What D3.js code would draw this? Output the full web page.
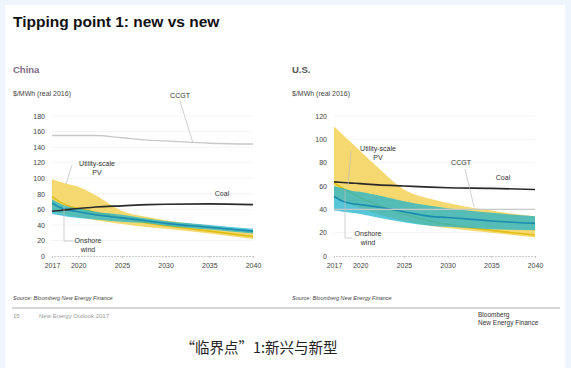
<!DOCTYPE html>
<html lang="en">
<head>
<meta charset="utf-8">
<script src="https://d3js.org/d3.v7.min.js"></script>
<style type="text/css">
body { margin: 0; background: #eef5fd; }
svg { display: block; font-family: "Liberation Sans", Arial, sans-serif; }
</style>
</head>
<body>
<script type="text/javascript">

// years
var years = [2017, 2018, 2019, 2020, 2022, 2025, 2028, 2030, 2035, 2040];
var xTicks = [2017, 2020, 2025, 2030, 2035, 2040];

// China, $/MWh
var cnCcgt      = [155, 155, 155, 155, 155, 152, 149, 148, 145, 144];
var cnCoal      = [57.5, 58.5, 60, 61, 63, 64.5, 66, 66.5, 67, 66];
var cnPvHigh    = [99, 95, 92, 89, 78, 58, 50, 46, 39, 32];
var cnPvMid     = [76, 69, 64, 61, 56, 49, 42, 39, 32, 25];
var cnPvLow     = [58, 55, 52, 50, 46, 41, 37, 35, 29, 22];
var cnWindHigh  = [73, 67, 63, 61, 57, 53, 48, 45, 40, 35];
var cnWindMid   = [68, 62, 59, 57, 53, 49, 45, 42, 37, 32];
var cnWindLow   = [54, 52, 50, 49, 47, 44, 42, 39, 34, 29];
var cnYTicks    = [0, 20, 40, 60, 80, 100, 120, 140, 160, 180];

// U.S., $/MWh
var usCcgt      = [40, 40, 40, 40, 40, 40, 40, 40, 40, 40];
var usCoal      = [63.5, 63, 62.5, 62, 61, 60, 59, 58.5, 58, 57];
var usPvHigh    = [111, 104, 97, 90, 76, 57, 49, 45.5, 39, 34];
var usPvMid     = [63, 58, 54, 50, 44, 36, 30, 27, 22, 18];
var usPvLow     = [50, 47, 44, 41, 36, 30, 26, 24, 20, 16];
var usWindHigh  = [60, 58, 56, 55, 52, 47, 43, 41, 37, 34];
var usWindMid   = [51, 47, 45, 44, 42, 38, 34, 33, 30, 28];
var usWindLow   = [39, 38, 37, 36, 33, 29, 26, 25, 23, 22];
var usYTicks    = [0, 20, 40, 60, 80, 100, 120];

var width = 571, height = 368;

var svg = d3.select("body").append("svg")
    .attr("width", width)
    .attr("height", height);

// white slide on the light blue page
svg.append("rect").attr("x", 5).attr("y", 5)
    .attr("width", 560).attr("height", 363).attr("fill", "#fff");

svg.append("text").attr("x", 13).attr("y", 27)
    .attr("font-size", 15.5).attr("font-weight", "bold").attr("fill", "#111")
    .text("Tipping point 1: new vs new");

function panel(o) {
    var x = d3.scaleLinear().domain([2017, 2040]).range(o.xr);
    var y = d3.scaleLinear().domain([0, o.ymax]).range([256, 116]);
    var g = svg.append("g");

    g.append("text").attr("x", o.titleX).attr("y", 73)
        .attr("font-size", 9.5).attr("font-weight", "bold").attr("fill", o.titleColor)
        .text(o.title);
    g.append("text").attr("x", o.titleX).attr("y", 96)
        .attr("font-size", 7).attr("fill", "#444")
        .text("$/MWh (real 2016)");

    // faint grid
    g.selectAll(".grid").data(o.yTicks.slice(1)).enter().append("line")
        .attr("x1", o.xr[0]).attr("x2", o.xr[1])
        .attr("y1", function(d) { return y(d); }).attr("y2", function(d) { return y(d); })
        .attr("stroke", "#f1f1f1").attr("stroke-width", 0.8);

    var yAxis = g.append("g").attr("transform", "translate(" + (o.xr[0] - 7) + ",0)")
        .call(d3.axisLeft(y).tickValues(o.yTicks).tickSize(0).tickPadding(0));
    yAxis.select(".domain").remove();
    yAxis.selectAll("text").attr("font-size", 7).attr("fill", "#444")
        .attr("font-family", "Liberation Sans, Arial, sans-serif");

    var xAxis = g.append("g").attr("transform", "translate(0," + y(0) + ")")
        .call(d3.axisBottom(x).tickValues(xTicks).tickFormat(d3.format("d")).tickSize(2).tickPadding(5));
    xAxis.select(".domain").attr("stroke", "#ccc").attr("stroke-dasharray", "2,1");
    xAxis.selectAll("line").attr("stroke", "#ccc");
    xAxis.selectAll("text").attr("font-size", 7).attr("fill", "#444")
        .attr("font-family", "Liberation Sans, Arial, sans-serif");

    var idx = d3.range(years.length);
    function band(lo, hi) {
        return d3.area().curve(d3.curveMonotoneX)
            .x(function(i) { return x(years[i]); })
            .y0(function(i) { return y(lo[i]); })
            .y1(function(i) { return y(hi[i]); })(idx);
    }
    function line(v) {
        return d3.line().curve(d3.curveMonotoneX)
            .x(function(i) { return x(years[i]); })
            .y(function(i) { return y(v[i]); })(idx);
    }

    g.append("path").attr("d", band(o.pvLow, o.pvHigh)).attr("fill", "#f4d560").attr("opacity", 0.9);
    g.append("path").attr("d", line(o.pvMid)).attr("fill", "none").attr("stroke", "#e2bd12").attr("stroke-width", 1.6);
    g.append("path").attr("d", band(o.windLow, o.windHigh)).attr("fill", "#1fb3cc").attr("opacity", 0.75);
    g.append("path").attr("d", line(o.windMid)).attr("fill", "none").attr("stroke", "#1a8cb0").attr("stroke-width", 1.6);
    g.append("path").attr("d", line(o.ccgt)).attr("fill", "none").attr("stroke", "#c8c8c8").attr("stroke-width", 1.4);
    g.append("path").attr("d", line(o.coal)).attr("fill", "none").attr("stroke", "#2a2a2a").attr("stroke-width", 1.6);

    // labels with leader lines
    o.labels.forEach(function(l) {
        if (l.lead) {
            g.append("polyline").attr("points", l.lead.map(function(p) { return p.join(","); }).join(" "))
                .attr("fill", "none").attr("stroke", "#bbb").attr("stroke-width", 0.7);
        }
        var t = g.append("text").attr("font-size", 7).attr("fill", "#333").attr("text-anchor", "middle");
        l.lines.forEach(function(s, k) {
            t.append("tspan").attr("x", l.x).attr("y", l.y + k * 9).text(s);
        });
    });

    g.append("text").attr("x", o.titleX).attr("y", 300)
        .attr("font-size", 5.5).attr("font-style", "italic").attr("fill", "#444")
        .text("Source: Bloomberg New Energy Finance");
}

panel({
    title: "China", titleX: 13, titleColor: "#7d6a86", xr: [52, 253], ymax: 180, yTicks: cnYTicks,
    ccgt: cnCcgt, coal: cnCoal, pvHigh: cnPvHigh, pvMid: cnPvMid, pvLow: cnPvLow,
    windHigh: cnWindHigh, windMid: cnWindMid, windLow: cnWindLow,
    labels: [
        { x: 180, y: 98, lines: ["CCGT"], lead: [[180, 101], [193, 143]] },
        { x: 222, y: 196, lines: ["Coal"] },
        { x: 97, y: 166, lines: ["Utility-scale", "PV"], lead: [[72, 165], [66, 184]] },
        { x: 88, y: 243, lines: ["Onshore", "wind"], lead: [[64, 206], [64, 241], [73, 241]] }
    ]
});

panel({
    title: "U.S.", titleX: 292, titleColor: "#555", xr: [334, 535], ymax: 120, yTicks: usYTicks,
    ccgt: usCcgt, coal: usCoal, pvHigh: usPvHigh, pvMid: usPvMid, pvLow: usPvLow,
    windHigh: usWindHigh, windMid: usWindMid, windLow: usWindLow,
    labels: [
        { x: 461, y: 165, lines: ["CCGT"], lead: [[465, 169], [474, 207]] },
        { x: 503, y: 180, lines: ["Coal"] },
        { x: 378, y: 151, lines: ["Utility-scale", "PV"], lead: [[351, 151], [348, 185]] },
        { x: 368, y: 236, lines: ["Onshore", "wind"], lead: [[345, 190], [345, 238], [352, 238]] }
    ]
});

// footer
svg.append("line").attr("x1", 12).attr("x2", 560).attr("y1", 308).attr("y2", 308)
    .attr("stroke", "#999").attr("stroke-width", 0.8);
svg.append("text").attr("x", 13).attr("y", 318).attr("font-size", 6).attr("fill", "#999")
    .text("15");
svg.append("text").attr("x", 39).attr("y", 318).attr("font-size", 6).attr("fill", "#999")
    .text("New Energy Outlook 2017");
svg.append("text").attr("x", 478).attr("y", 317).attr("font-size", 6.5).attr("fill", "#333")
    .text("Bloomberg");
svg.append("text").attr("x", 478).attr("y", 325).attr("font-size", 6.5).attr("fill", "#333")
    .text("New Energy Finance");

svg.append("text").attr("x", 259).attr("y", 353).attr("text-anchor", "middle")
    .attr("font-size", 14.5).attr("fill", "#222")
    .attr("font-family", "Noto Sans CJK SC, sans-serif")
    .text("“临界点”1:新兴与新型");

</script>
</body>
</html>
